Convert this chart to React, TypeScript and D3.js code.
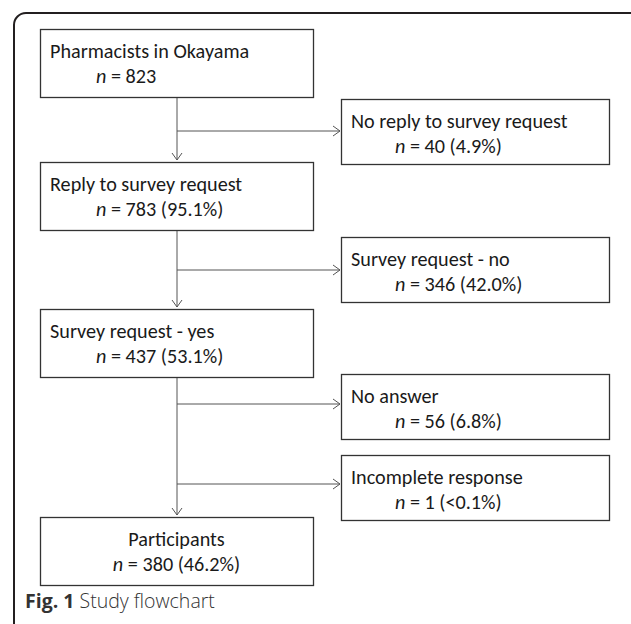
import React, { useRef, useEffect } from 'react';
import * as d3 from 'd3';

// main column (top to bottom)
const mainLabels = ['Pharmacists in Okayama', 'Reply to survey request', 'Survey request - yes', 'Participants'];
const mainCounts = [823, 783, 437, 380];
const mainPercents = ['', '95.1%', '53.1%', '46.2%'];

// exclusions branching to the right
const sideLabels = ['No reply to survey request', 'Survey request - no', 'No answer', 'Incomplete response'];
const sideCounts = [40, 346, 56, 1];
const sidePercents = ['4.9%', '42.0%', '6.8%', '<0.1%'];

const caption = ['Fig. 1', 'Study flowchart'];

// layout
const W = 631;
const H = 624;
const mainX = [40, 313];
const sideX = [341, 609];
const mainTops = [29, 162, 309, 517];
const mainH = 68;
const sideTops = [99, 237, 374, 455];
const sideH = 65;
const FONT = 'Carlito, Calibri, Lato, "Open Sans", sans-serif';

const countText = (n, p) => ` = ${n}${p ? ` (${p})` : ''}`;

export default function App() {
  const svgRef = useRef(null);

  useEffect(() => {
    const svg = d3.select(svgRef.current);
    svg.selectAll('*').remove();

    const cx = (mainX[0] + mainX[1]) / 2 + 0.5;

    // outer frame with rounded top-left corner
    const frame = d3.path();
    frame.moveTo(14, H + 10);
    frame.lineTo(14, 25);
    frame.arcTo(14, 13, 26, 13, 12);
    frame.lineTo(W + 10, 13);
    svg.append('path').attr('d', frame.toString())
      .attr('fill', 'none').attr('stroke', '#231f20').attr('stroke-width', 2);

    const line = d3.line();
    const conn = svg.append('g').attr('fill', 'none').attr('stroke', '#555').attr('stroke-width', 1);

    const arrowDown = (x, y) => line([[x - 5, y - 7], [x, y], [x + 5, y - 7]]);
    const arrowRight = (x, y) => line([[x - 7, y - 5], [x, y], [x - 7, y + 5]]);

    // vertical connectors between main boxes
    mainTops.slice(1).forEach((top, i) => {
      const y0 = mainTops[i] + mainH;
      const y1 = top - 2;
      conn.append('path').attr('d', line([[cx, y0], [cx, y1]]));
      conn.append('path').attr('d', arrowDown(cx, y1));
    });

    // horizontal branches to the exclusion boxes
    const branchY = [131, 270, 404, 484];
    sideLabels.forEach((_, i) => {
      const y = branchY[i];
      conn.append('path').attr('d', line([[cx, y], [sideX[0] - 1, y]]));
      conn.append('path').attr('d', arrowRight(sideX[0] - 1, y));
    });

    const drawBox = (x0, x1, top, h, label, n, p, center, indent) => {
      svg.append('rect')
        .attr('x', x0 + 0.5).attr('y', top + 0.5)
        .attr('width', x1 - x0).attr('height', h)
        .attr('fill', '#fff').attr('stroke', '#333').attr('stroke-width', 1.3);
      const t1 = svg.append('text')
        .attr('font-family', FONT).attr('font-size', 20.2).attr('fill', '#1a1a1a')
        .attr('y', top + 29)
        .text(label);
      const t2 = svg.append('text')
        .attr('font-family', FONT).attr('font-size', 20.2).attr('fill', '#1a1a1a')
        .attr('y', top + 54);
      t2.append('tspan').attr('font-style', 'italic').text('n');
      t2.append('tspan').text(countText(n, p));
      if (center) {
        const mid = (x0 + x1) / 2;
        t1.attr('x', mid).attr('text-anchor', 'middle');
        t2.attr('x', mid).attr('text-anchor', 'middle');
      } else {
        t1.attr('x', x0 + 10);
        t2.attr('x', x0 + indent);
      }
    };

    mainLabels.forEach((label, i) => {
      const last = i === mainLabels.length - 1;
      drawBox(mainX[0], mainX[1], mainTops[i], mainH, label, mainCounts[i], mainPercents[i], last, 56);
    });
    sideLabels.forEach((label, i) => {
      drawBox(sideX[0], sideX[1], sideTops[i], sideH, label, sideCounts[i], sidePercents[i], false, 54);
    });

    const cap = svg.append('text')
      .attr('x', 25).attr('y', 608)
      .attr('font-family', '"Open Sans", Lato, sans-serif').attr('font-size', 19.5).attr('fill', '#333');
    cap.append('tspan').attr('font-weight', 'bold').text(caption[0]);
    cap.append('tspan').attr('font-weight', 300).text(' ' + caption[1]);
  }, []);

  return (
    <svg ref={svgRef} width={W} height={H}
      style={{ position: 'absolute', left: 0, top: 0, background: '#fff' }} />
  );
}
